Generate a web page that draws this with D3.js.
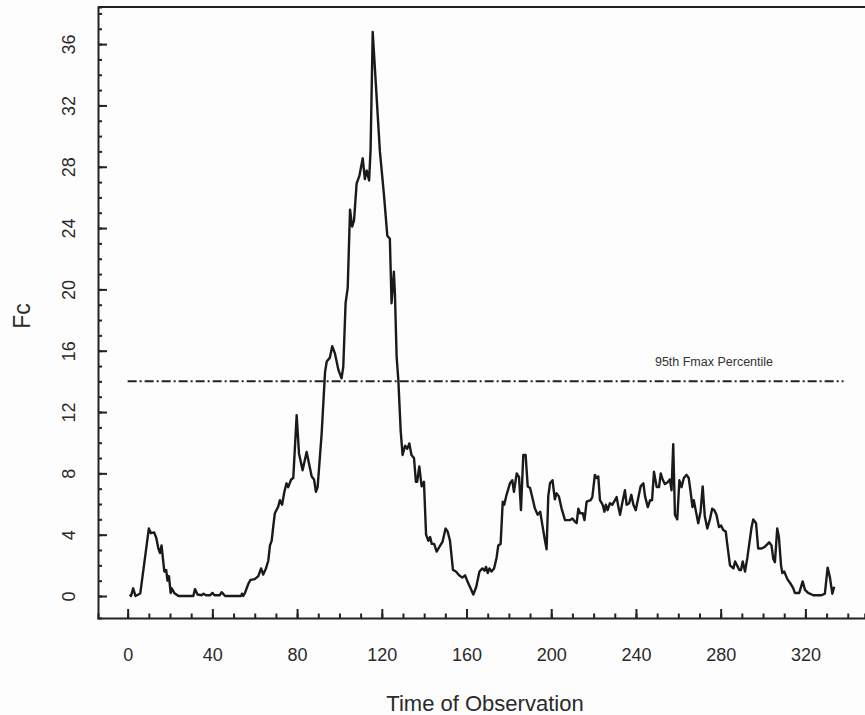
<!DOCTYPE html>
<html>
<head>
<meta charset="utf-8">
<script src="https://cdn.jsdelivr.net/npm/d3@7.9.0/dist/d3.min.js"></script>
<style>
  html, body { margin: 0; padding: 0; background: #fdfdfd; }
  svg { display: block; font-family: "Liberation Sans", Arial, Helvetica, sans-serif; }
  .axis path, .axis line { stroke: #222; }
  .axis text { fill: #2a2a2a; font-size: 18px; }
</style>
</head>
<body>
<svg id="chart" width="865" height="715"></svg>
<script>
// observation times (at the line's vertices)
const obsTime = [
  1, 1.6, 2.6, 3.7, 5.7, 6, 10, 11, 12.5, 13.5, 14.5, 15.3, 16, 17.3, 18.2, 18.8, 19.5, 20.3, 20.8, 22,
  24, 31, 31.8, 33, 35, 35.8, 37, 39, 40, 41, 43.5, 44.4, 46, 53.5, 54, 54.6, 55.4, 57, 58, 60,
  61.7, 63, 64, 65.3, 66.4, 67.2, 68, 68.8, 69.5, 71, 71.9, 72.9, 74, 75, 75.8, 77.2, 78.2, 79.8, 80.9, 82.6,
  84.5, 86.9, 88, 88.9, 89.7, 91.6, 93.2, 94, 95.5, 96.6, 97.9, 99.5, 101, 101.8, 102.9, 103.9, 105, 106, 106.9, 108.1,
  109.4, 111, 112, 112.9, 114, 114.7, 115.7, 119.1, 121, 122.6, 123.8, 124.6, 125.7, 126.2, 127, 127.8, 128.9, 129.8, 131, 132,
  133, 134, 135.2, 136.1, 136.7, 137.7, 138.8, 139.9, 140.9, 142, 142.8, 143.6, 144.7, 145.9, 147.2, 148.7, 150.1, 151.1, 152.2, 153.6,
  155, 156.5, 158, 159.3, 160.3, 161.6, 163.2, 164.6, 166.1, 167.5, 168.5, 169.2, 170, 170.8, 171.8, 173, 174.2, 175, 176.1, 177.1,
  177.8, 178.9, 180.5, 181.6, 182.4, 183.7, 184.8, 185.7, 186.8, 187.9, 188.9, 190, 191.3, 192.3, 193.6, 194.8, 195.6, 197, 197.8, 198.6,
  199.4, 200.6, 201.7, 202.5, 203.6, 204.9, 206.5, 208.9, 210, 211.2, 212, 212.8, 213.6, 214.9, 215.7, 216.7, 218.6, 219.4, 220.6, 221.4,
  222.2, 223, 224.3, 225.1, 225.8, 226.6, 227.7, 228.8, 230.1, 230.9, 231.7, 232.5, 233.5, 234.8, 235.6, 236.8, 237.8, 238.8, 239.9, 241,
  242.2, 243.5, 244.3, 245.6, 246.7, 247.6, 248.5, 249.8, 250.9, 251.7, 252.6, 253.7, 254.8, 256, 256.8, 257.6, 258.4, 259.5, 260.5, 261.5,
  262.6, 263.9, 264.9, 265.7, 266.7, 267.3, 268.2, 269.4, 270.5, 271.5, 272.5, 273.7, 275, 276, 277, 278, 279.2, 280.2, 281.2, 282.4,
  283, 284.4, 286, 286.8, 287.9, 288.8, 289.6, 290.4, 291.5, 292.6, 294.6, 295.4, 296.7, 297.7, 299.3, 300.8, 302.9, 304, 304.8, 305.6,
  306.7, 307.5, 308.5, 309.1, 310, 311.5, 313, 314.3, 315, 317.1, 318.7, 319.8, 321.3, 323.7, 327.6, 329.2, 330.5, 331.6, 332.7, 333.6
];
// Fc values at those times
const fcValue = [
  0.1, 0, 0.5, 0, 0.15, 0.2, 4.4, 4.1, 4.15, 3.8, 3.1, 2.8, 3.3, 1.6, 1.7, 1.0, 1.3, 0.2, 0.5, 0.2,
  0, 0, 0.45, 0.1, 0.05, 0.15, 0.05, 0.05, 0.2, 0.05, 0.05, 0.25, 0, 0, 0.15, 0, 0.2, 0.8, 1.05, 1.1,
  1.3, 1.8, 1.4, 1.8, 2.3, 3.3, 3.6, 4.6, 5.4, 5.8, 6.25, 5.95, 6.8, 7.35, 7.1, 7.6, 7.7, 11.8, 9.3, 8.2,
  9.4, 7.8, 7.6, 6.8, 7.1, 10.6, 14.6, 15.3, 15.55, 16.3, 15.8, 14.75, 14.2, 14.95, 19.1, 20.1, 25.2, 24.1, 24.5, 26.9,
  27.4, 28.55, 27.2, 27.75, 27.1, 29.1, 36.8, 29.0, 26.2, 23.5, 23.3, 19.1, 21.15, 19.7, 15.6, 14.1, 10.8, 9.2, 9.8, 9.6,
  9.95, 9.2, 9.0, 7.45, 7.45, 8.45, 7.15, 7.45, 4.0, 3.6, 3.85, 3.4, 3.4, 2.9, 3.2, 3.55, 4.4, 4.2, 3.6, 1.7,
  1.6, 1.35, 1.2, 1.35, 1.0, 0.6, 0.1, 0.6, 1.6, 1.8, 1.65, 1.9, 1.5, 1.8, 1.6, 1.8, 2.5, 3.3, 3.4, 6.15,
  5.95, 6.6, 7.35, 7.55, 6.8, 8.0, 7.75, 5.6, 9.2, 9.2, 7.15, 7.05, 6.3, 5.7, 5.3, 5.5, 4.8, 3.65, 3.05, 6.5,
  7.35, 7.55, 6.3, 6.7, 6.5, 5.7, 4.95, 4.95, 5.05, 4.85, 4.75, 5.7, 5.4, 5.4, 4.95, 6.15, 6.25, 6.45, 7.9, 7.7,
  7.8, 6.25, 5.95, 5.5, 5.95, 5.6, 6.05, 5.95, 6.25, 6.45, 5.8, 5.3, 6.05, 6.9, 5.95, 6.05, 6.6, 5.95, 5.6, 6.35,
  7.15, 7.35, 6.5, 5.8, 6.25, 6.25, 8.1, 7.1, 7.1, 8.0, 7.6, 7.3, 7.4, 7.6, 6.9, 9.9, 5.3, 5.0, 7.55, 7.1,
  7.7, 7.9, 7.7, 6.9, 5.8, 6.25, 5.6, 4.75, 5.5, 7.15, 5.2, 4.4, 5.05, 5.7, 5.6, 5.3, 4.5, 4.6, 4.3, 4.2,
  3.5, 2.0, 1.8, 2.25, 1.95, 1.7, 1.7, 2.25, 1.6, 2.5, 4.5, 5.0, 4.75, 3.1, 3.1, 3.2, 3.5, 3.3, 2.45, 2.2,
  4.4, 3.85, 2.0, 1.5, 1.6, 1.1, 0.8, 0.5, 0.2, 0.2, 0.95, 0.4, 0.2, 0.05, 0.05, 0.15, 1.85, 1.2, 0.15, 0.6
];
const xMajorTicks = [0, 40, 80, 120, 160, 200, 240, 280, 320];
const yMajorTicks = [0, 4, 8, 12, 16, 20, 24, 28, 32, 36];
const fmaxLevel = 14;
const fmaxLabel = "95th Fmax Percentile";

const svg = d3.select('#chart');
const data = obsTime.map((t, i) => ({ t: t, v: fcValue[i] }));

let x = d3.scaleLinear().domain([-14, 348]).range([98, 864.7]);
let y = d3.scaleLinear().domain([-1.435, 38.42]).range([618, 7]);

// top frame line
svg.append('line')
  .attr('x1', 98).attr('x2', 865)
  .attr('y1', 7).attr('y2', 7)
  .attr('stroke', '#222').attr('stroke-width', 2);

// y axis: minor ticks, then major ticks with rotated labels
svg.append('g')
  .attr('class', 'axis')
  .attr('transform', 'translate(98,0)')
  .call(d3.axisLeft(y).tickValues(d3.range(0, 39)).tickSize(-4).tickFormat(''))
  .call(g => g.select('.domain').attr('stroke-width', 2))
  .call(g => g.selectAll('line').attr('stroke-width', 2));

let yMajor = svg.append('g')
  .attr('class', 'axis')
  .attr('transform', 'translate(98,0)')
  .call(d3.axisLeft(y).tickValues(yMajorTicks).tickSize(-9).tickFormat(d3.format('d')))
  .call(g => g.select('.domain').remove())
  .call(g => g.selectAll('line').attr('stroke-width', 2));
yMajor.selectAll('text')
  .attr('transform', 'rotate(-90)')
  .attr('x', 0)
  .attr('y', -29)
  .attr('dy', '0.35em')
  .attr('text-anchor', 'middle');

// x axis
svg.append('g')
  .attr('class', 'axis')
  .attr('transform', 'translate(0,618)')
  .call(d3.axisBottom(x).tickValues(d3.range(0, 350, 10)).tickSize(-4.5).tickFormat(''))
  .call(g => g.select('.domain').attr('stroke-width', 2))
  .call(g => g.selectAll('line').attr('stroke-width', 2));

let xMajor = svg.append('g')
  .attr('class', 'axis')
  .attr('transform', 'translate(0,618)')
  .call(d3.axisBottom(x).tickValues(xMajorTicks).tickSize(-9).tickFormat(d3.format('d')))
  .call(g => g.select('.domain').remove())
  .call(g => g.selectAll('line').attr('stroke-width', 2));
xMajor.selectAll('text')
  .attr('y', 43)
  .attr('dy', 0);

// axis titles
svg.append('text')
  .attr('x', 485).attr('y', 711)
  .attr('text-anchor', 'middle')
  .attr('font-size', 22)
  .attr('fill', '#2a2a2a')
  .text('Time of Observation');

svg.append('text')
  .attr('transform', 'translate(30,316) rotate(-90)')
  .attr('text-anchor', 'middle')
  .attr('font-size', 23)
  .attr('fill', '#2a2a2a')
  .text('Fc');

// 95th percentile reference line
svg.append('line')
  .attr('x1', x(0)).attr('x2', x(338))
  .attr('y1', y(fmaxLevel)).attr('y2', y(fmaxLevel))
  .attr('stroke', '#222')
  .attr('stroke-width', 2)
  .attr('stroke-dasharray', '9,3,2,3');

svg.append('text')
  .attr('x', 714).attr('y', 366)
  .attr('text-anchor', 'middle')
  .attr('font-size', 12.5)
  .attr('fill', '#333')
  .text(fmaxLabel);

// Fc series
let line = d3.line().x(d => x(d.t)).y(d => y(d.v));
svg.append('path')
  .datum(data)
  .attr('d', line)
  .attr('fill', 'none')
  .attr('stroke', '#1a1a1a')
  .attr('stroke-width', 2.4)
  .attr('stroke-linejoin', 'round');
</script>
</body>
</html>
